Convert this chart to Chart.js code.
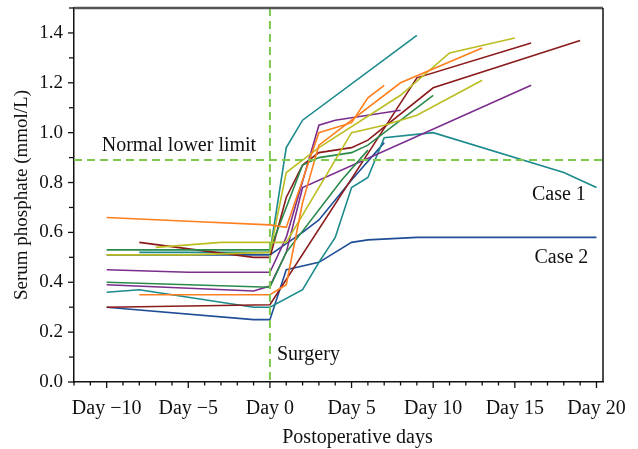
<!DOCTYPE html>
<html>
<head>
<meta charset="utf-8">
<script src="https://cdn.jsdelivr.net/npm/chart.js@4.4.1/dist/chart.umd.min.js"></script>
<style>
  html, body { margin: 0; padding: 0; background: #fff; }
  #wrap { width: 638px; height: 449px; }
</style>
</head>
<body>
<div id="wrap"><canvas id="chart" width="638" height="449"></canvas></div>
<script>
// serum phosphate per patient, [day, mmol/L]
const orangeA = [[-10,0.66],[-5,0.645],[0,0.63],[1,0.62],[3,1.00],[5,1.04],[6,1.14],[7,1.19]];
const orangeB = [[-8,0.35],[0,0.35],[1,0.39],[2,0.72],[3,0.95],[8,1.20],[13,1.34]];
const redA    = [[-8,0.56],[-1,0.50],[0,0.50],[1,0.74],[2,0.87],[3,0.92],[5,0.94],[6,0.97],[10,1.18],[19,1.37]];
const redB    = [[-10,0.30],[-5,0.305],[0,0.31],[9,1.22],[16,1.36]];
const yellowA = [[-10,0.51],[-5,0.51],[0,0.52],[1,0.84],[3,0.94],[8,1.15],[11,1.32],[15,1.38]];
const yellowB = [[-7,0.54],[-3,0.56],[0,0.56],[1,0.56],[5,1.00],[7,1.03],[9,1.07],[13,1.21]];
const greenA  = [[-10,0.53],[0,0.53],[2,0.87],[3,0.90],[5,0.92],[6,0.95],[10,1.15]];
const greenB  = [[-10,0.40],[-5,0.39],[0,0.38],[1,0.52],[4.4,0.81],[6,0.93]];
const purpleA = [[-10,0.45],[-5,0.44],[0,0.44],[1,0.58],[3,1.03],[4,1.05],[6,1.07],[8,1.09]];
const purpleB = [[-10,0.39],[-1,0.365],[0,0.385],[1,0.52],[2,0.78],[16,1.19]];
const tealA   = [[-8,0.52],[0,0.52],[1,0.94],[2,1.05],[9,1.39]];
const tealB   = [[-10,0.36],[-8,0.37],[-1,0.30],[0,0.30],[2,0.37],[3,0.48],[4,0.58],[5,0.78],[6,0.82],[7,0.98],[10,1.00],[18,0.84],[20,0.78]]; // case 1
const blueA   = [[-10,0.51],[0,0.51],[2,0.60],[3,0.65],[5,0.81],[7,0.96]];
const blueB   = [[-10,0.30],[-1,0.25],[0,0.25],[1,0.45],[3,0.48],[5,0.56],[6,0.57],[9,0.58],[20,0.58]]; // case 2

const normalLower = 0.89;
const surgeryDay = 0;

const colors = {
  orange: '#ff7f1e', red: '#8b1a1a', yellow: '#bcbd22', green: '#2a8a4a',
  purple: '#7b2d8e', teal: '#1b8a8c', blue: '#1f4e96'
};

const series = [
  [orangeA, colors.orange], [orangeB, colors.orange],
  [yellowA, colors.yellow], [yellowB, colors.yellow],
  [greenA, colors.green], [greenB, colors.green],
  [purpleA, colors.purple], [purpleB, colors.purple],
  [redA, colors.red], [redB, colors.red],
  [tealA, colors.teal], [tealB, colors.teal],
  [blueA, colors.blue], [blueB, colors.blue]
];

const FONT = "'Liberation Serif', 'DejaVu Serif', serif";

const datasets = series.map(([pts, c]) => ({
  data: pts.map(p => ({ x: p[0], y: p[1] })),
  borderColor: c,
  borderWidth: 1.6,
  pointRadius: 0,
  tension: 0,
  fill: false
}));

// dashed lines, ticks, frame and notes
const extras = {
  id: 'extras',
  afterDatasetsDraw(chart) {
    const { ctx, chartArea: a, scales: { x, y } } = chart;
    ctx.save();
    ctx.strokeStyle = '#7ec850';
    ctx.lineWidth = 2;
    ctx.setLineDash([8, 5]);
    const hy = y.getPixelForValue(normalLower);
    ctx.beginPath(); ctx.moveTo(a.left, hy); ctx.lineTo(a.right, hy); ctx.stroke();
    const vx = x.getPixelForValue(surgeryDay);
    ctx.beginPath(); ctx.moveTo(vx, a.top); ctx.lineTo(vx, a.bottom); ctx.stroke();
    ctx.setLineDash([]);

    // frame
    ctx.strokeStyle = '#555';
    ctx.lineWidth = 2.5;
    ctx.beginPath(); ctx.moveTo(a.left, a.top); ctx.lineTo(a.right, a.top); ctx.stroke();
    ctx.strokeStyle = '#111';
    ctx.lineWidth = 1.5;
    ctx.beginPath(); ctx.moveTo(a.right, a.top); ctx.lineTo(a.right, a.bottom); ctx.stroke();

    // ticks
    ctx.lineWidth = 1.3;
    x.ticks.forEach(t => {
      const px = x.getPixelForValue(t.value);
      const len = t.value % 5 === 0 ? 6 : 3.5;
      ctx.beginPath(); ctx.moveTo(px, a.bottom); ctx.lineTo(px, a.bottom + len); ctx.stroke();
    });
    y.ticks.forEach(t => {
      const py = y.getPixelForValue(t.value);
      const len = Math.round(t.value * 10) % 2 === 0 ? 6 : 5;
      ctx.beginPath(); ctx.moveTo(a.left, py); ctx.lineTo(a.left - len, py); ctx.stroke();
    });

    // notes
    ctx.fillStyle = '#111';
    ctx.font = '20px ' + FONT;
    ctx.textBaseline = 'alphabetic';
    ctx.textAlign = 'left';
    ctx.fillText('Normal lower limit', x.getPixelForValue(-10.3), hy - 9);
    ctx.textBaseline = 'middle';
    ctx.fillText('Surgery', vx + 7, y.getPixelForValue(0.11));
    ctx.textAlign = 'center';
    ctx.fillText('Case 1', x.getPixelForValue(17.7), y.getPixelForValue(0.75));
    ctx.fillText('Case 2', x.getPixelForValue(17.85), y.getPixelForValue(0.50));

    // axis titles
    ctx.fillText('Postoperative days', (a.left + a.right) / 2 + 19, 438);
    ctx.font = '19px ' + FONT;
    ctx.translate(22, (a.top + a.bottom) / 2);
    ctx.rotate(-Math.PI / 2);
    ctx.fillText('Serum phosphate (mmol/L)', 0, 0);
    ctx.restore();
  }
};

new Chart(document.getElementById('chart'), {
  type: 'line',
  data: { datasets },
  plugins: [extras],
  options: {
    responsive: false,
    animation: false,
    layout: { padding: { top: 8, right: 35, left: 0, bottom: 0 } },
    plugins: { legend: { display: false }, tooltip: { enabled: false } },
    scales: {
      x: {
        type: 'linear',
        min: -12, max: 20.4,
        grid: { display: true, drawOnChartArea: false, drawTicks: false },
        border: { display: true, color: '#111', width: 1.5 },
        ticks: {
          stepSize: 1, includeBounds: false, autoSkip: false, maxRotation: 0,
          padding: 15, color: '#111',
          font: { family: FONT, size: 20 },
          callback: v => v % 5 === 0 ? 'Day ' + (v < 0 ? '\u2212' + (-v) : v) : ''
        },
        afterFit: s => { s.height = 67; s.paddingLeft = 0; s.paddingRight = 0; }
      },
      y: {
        min: 0, max: 1.5,
        grid: { display: true, drawOnChartArea: false, drawTicks: false },
        border: { display: true, color: '#111', width: 1.5 },
        ticks: {
          stepSize: 0.1, includeBounds: false, autoSkip: false,
          padding: 11, color: '#111',
          font: { family: FONT, size: 19 },
          callback: v => Math.round(v * 10) % 2 === 0 ? v.toFixed(1) : ''
        },
        afterFit: s => { s.width = 74; s.paddingTop = 0; s.paddingBottom = 0; }
      }
    }
  }
});
</script>
</body>
</html>
